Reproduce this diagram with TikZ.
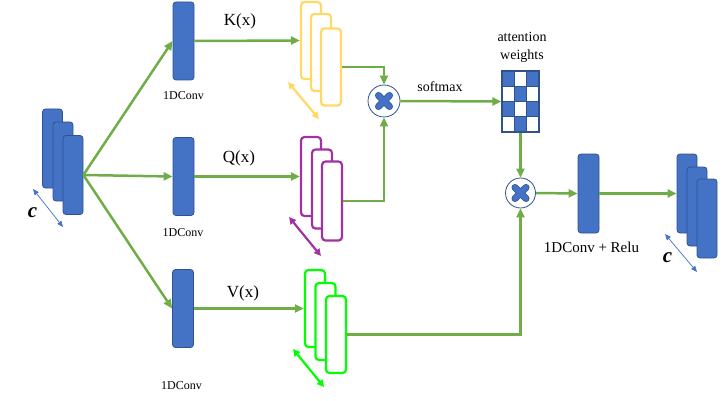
\documentclass[tikz,border=0pt]{standalone}
\usepackage{fontspec}
\setmainfont{Liberation Serif}
\usetikzlibrary{arrows.meta,calc}
\definecolor{cblue}{HTML}{4472C4}
\definecolor{cdark}{HTML}{2F528F}
\definecolor{cgreen}{HTML}{70AD47}
\definecolor{cyel}{HTML}{FFD966}
\definecolor{cmag}{RGB}{162,50,160}
\definecolor{clime}{HTML}{00FF00}
\begin{document}
\begin{tikzpicture}[x=1pt,y=-1pt,
  conv/.style={draw=cdark, fill=cblue, line width=0.8pt, rounded corners=3pt, minimum width=21pt, minimum height=78pt, inner sep=0pt},
  fmap/.style={fill=white, line width=2.2pt, rounded corners=3.5pt, minimum width=20pt, minimum height=77pt, inner sep=0pt},
  conn/.style={cgreen, line width=2.5pt, -{Triangle[length=9pt,width=8pt]}},
  plainconn/.style={cgreen, line width=2.5pt},
  mult/.style={circle, draw=cdark, fill=white, line width=0.8pt, inner sep=0pt},
  crossdark/.style={cdark, line width=7pt, line cap=round},
  crossblue/.style={cblue, line width=5.4pt, line cap=round},
  biglbl/.style={font=\fontsize{17}{17}\selectfont, inner sep=0pt},
  smalllbl/.style={font=\fontsize{12}{12}\selectfont, inner sep=0pt},
  midlbl/.style={font=\fontsize{14}{14}\selectfont, inner sep=0pt},
  relulbl/.style={font=\fontsize{15}{15}\selectfont, inner sep=0pt},
  clbl/.style={font=\fontsize{21}{21}\selectfont\bfseries\itshape, inner sep=0pt},
  dimthin/.style={cblue, line width=.7pt, {Triangle[length=6pt,width=5pt]}-{Triangle[length=6pt,width=5pt]}},
  dimthick/.style={line width=2.2pt, {Triangle[length=7pt,width=7pt]}-{Triangle[length=7pt,width=7pt]}}
]
\useasboundingbox (0,0) rectangle (725,401);

% input stack
\node[conv, minimum width=20pt, minimum height=79pt] (in1) at (52.5,148.5) {};
\node[conv, minimum width=20pt, minimum height=79pt] (in2) at (63,161.5) {};
\node[conv, minimum width=20pt, minimum height=79pt] (in3) at (73,175) {};
\coordinate (ca1) at (33,189);
\coordinate (ca2) at (63,227);
\draw[dimthin] (ca1) -- (ca2);
\node[clbl] (cl) at (32.5,213) {c};

% 1D convs
\node[conv] (kc) at (183.5,41) {};
\node[conv] (qc) at (183.5,176.5) {};
\node[conv] (vc) at (183,308.5) {};
\node[smalllbl] (kcl) at (183.5,96) {1DConv};
\node[smalllbl] (qcl) at (183,233) {1DConv};
\node[smalllbl] (vcl) at (181.5,386) {1DConv};

\draw[conn] (in3.east) -- (kc.west);
\draw[conn] (in3.east) -- (qc.west);
\draw[conn] (in3.east) -- (vc.west);

% K stack
\node[fmap, draw=cyel] (k1) at (311,40.5) {};
\node[fmap, draw=cyel] (k2) at (321,52.5) {};
\node[fmap, draw=cyel] (k3) at (331,67) {};
\coordinate (ka1) at (288,82);
\coordinate (ka2) at (319,119);
\draw[dimthick, cyel] (ka1) -- (ka2);
\node[biglbl] (kl) at (240,21) {K(x)};

% Q stack
\node[fmap, draw=cmag, minimum height=79pt] (q1) at (311,176.5) {};
\node[fmap, draw=cmag, minimum height=79pt] (q2) at (322,189) {};
\node[fmap, draw=cmag, minimum height=79pt] (q3) at (332,201) {};
\coordinate (qa1) at (289,217);
\coordinate (qa2) at (321,256);
\draw[dimthick, cmag] (qa1) -- (qa2);
\node[biglbl] (ql) at (239,158) {Q(x)};

% V stack
\node[fmap, draw=clime] (v1) at (315,308.5) {};
\node[fmap, draw=clime] (v2) at (325.5,321.5) {};
\node[fmap, draw=clime] (v3) at (336,334.5) {};
\coordinate (va1) at (293,349);
\coordinate (va2) at (324,387);
\draw[dimthick, clime] (va1) -- (va2);
\node[biglbl] (vl) at (243,293) {V(x)};

\draw[conn] (kc.east) -- (k1.west);
\draw[conn] (qc.east) -- (q1.west);
\draw[conn] (vc.east) -- (v1.west);

% multiplications
\node[mult, minimum size=32pt] (m1) at (384,101) {};
\node[mult, minimum size=30pt] (m2) at (520.5,193) {};
\foreach \m in {m1,m2} {
  \draw[crossdark] ($(\m)+(-5.5,-5.5)$) -- ($(\m)+(5.5,5.5)$) ($(\m)+(-5.5,5.5)$) -- ($(\m)+(5.5,-5.5)$);
  \draw[crossblue] ($(\m)+(-5.5,-5.5)$) -- ($(\m)+(5.5,5.5)$) ($(\m)+(-5.5,5.5)$) -- ($(\m)+(5.5,-5.5)$);
}

\draw[conn] (k3.east) -| (m1.north);
\draw[conn] (q3.east) -| (m1.south);
\draw[conn] (v3.east) -| (m2.south);

% attention weights
\foreach \i in {0,1,2} {
  \foreach \j in {0,1,2,3} {
    \pgfmathtruncatemacro{\parity}{mod(\i+\j,2)}
    \ifnum\parity=0
      \fill[cblue] (502+\i*37/3,71+\j*15.25) rectangle ++(37/3,15.25);
    \fi
  }
}
\foreach \i in {1,2} \draw[cdark, line width=1.2pt] (502+\i*37/3,71) -- ++(0,61);
\foreach \j in {1,2,3} \draw[cdark, line width=1.2pt] (502,71+\j*15.25) -- ++(37,0);
\node[draw=cdark, line width=1.2pt, minimum width=37pt, minimum height=61pt, inner sep=0pt] (att) at (520.5,101.5) {};
\node[midlbl] (attl1) at (522,37) {attention};
\node[midlbl] (attl2) at (522,56) {weights};

\draw[conn] (m1.east) -- (att.west);
\node[midlbl] (sml) at (440,87) {softmax};
\draw[conn] (att.south) -- (m2.north);

% output conv
\node[conv, minimum height=79pt] (oc) at (588.5,193.5) {};
\node[relulbl] (ocl) at (591.5,247) {1DConv + Relu};
\draw[conn] (m2.east) -- (oc.west);

% output stack
\node[conv, minimum width=20pt, minimum height=79pt] (o1) at (687,193.5) {};
\node[conv, minimum width=20pt, minimum height=79pt] (o2) at (697,206.5) {};
\node[conv, minimum width=20pt, minimum height=79pt] (o3) at (707,218.5) {};
\draw[conn] (oc.east) -- (o1.west);
\coordinate (oa1) at (665,234);
\coordinate (oa2) at (697,272);
\draw[dimthin] (oa1) -- (oa2);
\node[clbl] (ocl2) at (667.5,258) {c};
\end{tikzpicture}
\end{document}
